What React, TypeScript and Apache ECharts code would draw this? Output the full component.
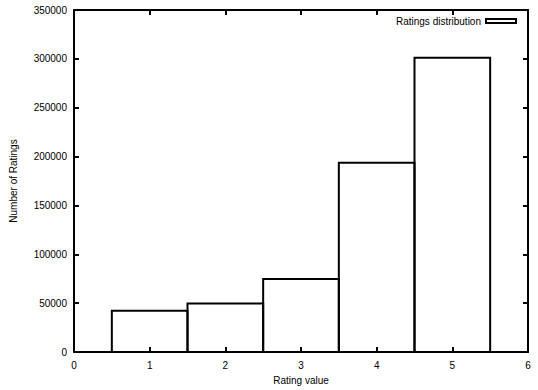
import React, { useEffect, useRef } from "react";
import * as echarts from "echarts";

const ratings = [1, 2, 3, 4, 5];
const counts = [42100, 49600, 74700, 193700, 301200];
const seriesName = "Ratings distribution";
const xTitle = "Rating value";
const yTitle = "Number of Ratings";

const FONT = "Liberation Sans, Arial, Helvetica, sans-serif";

export default function App() {
  const ref = useRef<HTMLDivElement>(null);
  useEffect(() => {
    if (!ref.current) return;
    const chart = echarts.init(ref.current, undefined, { renderer: "svg" });
    const axisLine = { show: true, onZero: false, lineStyle: { color: "#000", width: 2 } };
    const tick = { show: true, inside: true, length: 5, lineStyle: { color: "#000", width: 2 } };
    const label = { color: "#000", fontFamily: FONT, fontSize: 10, formatter: (v: number) => String(v) };
    const data = ratings.map((r, i) => [r, counts[i]]);
    chart.setOption({
      animation: false,
      backgroundColor: "#fff",
      grid: { left: 73, right: 10, top: 10, bottom: 38, containLabel: false },
      legend: {
        show: true,
        right: 16,
        top: 11,
        align: "right",
        itemWidth: 30,
        itemHeight: 4,
        itemGap: 4,
        icon: "rect",
        textStyle: { color: "#000", fontFamily: FONT, fontSize: 10 },
        data: [{ name: seriesName, icon: "rect", itemStyle: { color: "#fff", borderColor: "#000", borderWidth: 2 } }],
      },
      xAxis: [
        {
          type: "value",
          min: 0,
          max: 6,
          interval: 1,
          position: "bottom",
          axisLine,
          axisTick: tick,
          splitLine: { show: false },
          axisLabel: { ...label, margin: 8 },
          name: xTitle,
          nameLocation: "middle",
          nameGap: 23,
          nameTextStyle: { color: "#000", fontFamily: FONT, fontSize: 10 },
        },
        {
          type: "value",
          min: 0,
          max: 6,
          interval: 1,
          position: "top",
          axisLine,
          axisTick: tick,
          splitLine: { show: false },
          axisLabel: { show: false },
        },
      ],
      yAxis: [
        {
          type: "value",
          min: 0,
          max: 350000,
          interval: 50000,
          position: "left",
          axisLine,
          axisTick: tick,
          splitLine: { show: false },
          axisLabel: { ...label, margin: 7 },
          name: yTitle,
          nameLocation: "middle",
          nameGap: 56,
          nameRotate: 90,
          nameTextStyle: { color: "#000", fontFamily: FONT, fontSize: 10 },
        },
        {
          type: "value",
          min: 0,
          max: 350000,
          interval: 50000,
          position: "right",
          axisLine,
          axisTick: tick,
          splitLine: { show: false },
          axisLabel: { show: false },
        },
      ],
      series: [
        {
          name: seriesName,
          type: "custom",
          xAxisIndex: 0,
          yAxisIndex: 0,
          itemStyle: { color: "#fff", borderColor: "#000", borderWidth: 2 },
          renderItem: (params: any, api: any) => {
            const x = api.value(0);
            const y = api.value(1);
            const p1 = api.coord([x - 0.5, y]);
            const p2 = api.coord([x + 0.5, 0]);
            return {
              type: "rect",
              shape: { x: p1[0], y: p1[1], width: p2[0] - p1[0], height: p2[1] - p1[1] },
              style: { fill: "none", stroke: "#000", lineWidth: 2 },
            };
          },
          data,
          z: 1,
        },
      ],
    });
    return () => chart.dispose();
  }, []);
  return <div ref={ref} style={{ width: 538, height: 390, position: "absolute", left: 0, top: 0 }} />;
}
